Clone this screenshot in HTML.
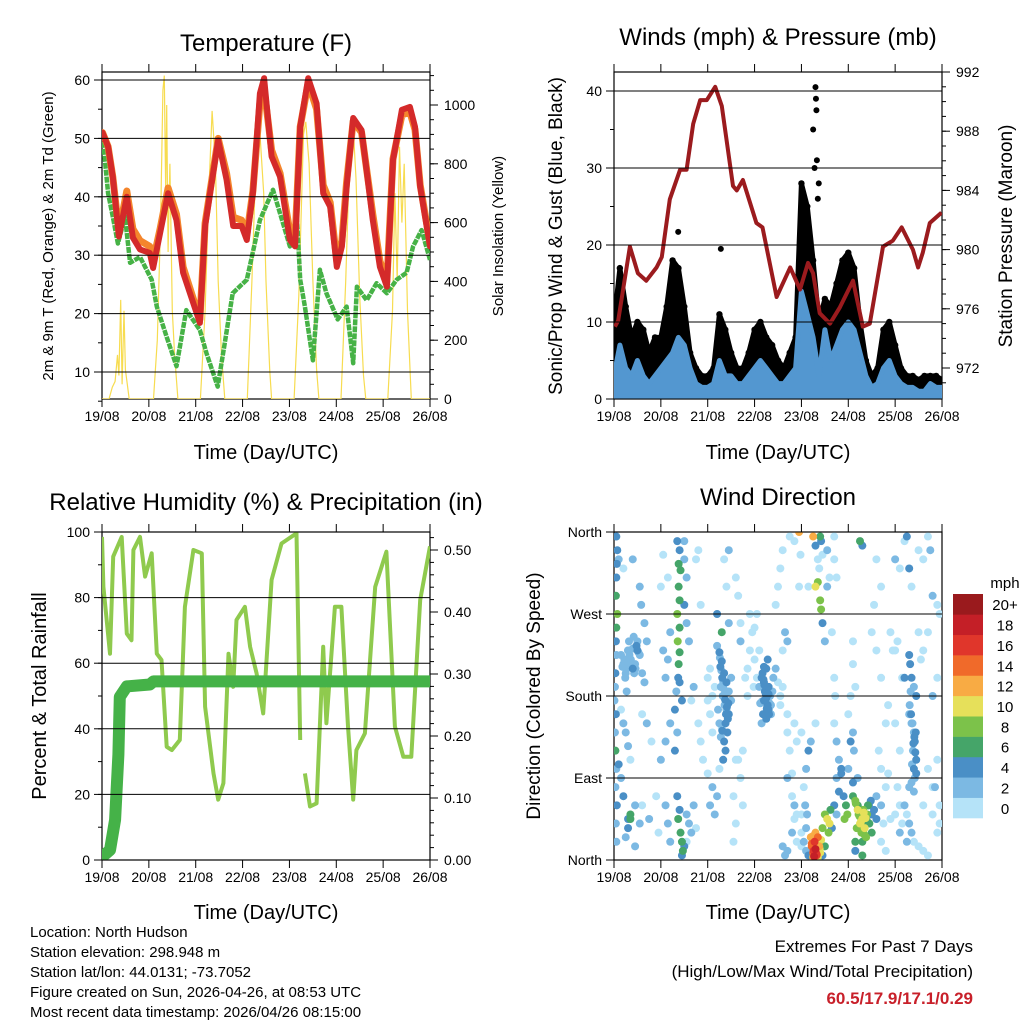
<!DOCTYPE html>
<html><head><meta charset="utf-8">
<style>
html,body{margin:0;padding:0;background:#fff;}
svg{display:block;font-family:"Liberation Sans",Arial,sans-serif;}
</style></head>
<body>
<svg id="chart" width="1024" height="1024" viewBox="0 0 1024 1024" xmlns="http://www.w3.org/2000/svg">
<defs>
<clipPath id="c1"><rect x="102" y="72" width="328" height="327"/></clipPath>
<clipPath id="c2"><rect x="614" y="72" width="328" height="327"/></clipPath>
<clipPath id="c3"><rect x="102" y="532" width="328" height="328"/></clipPath>
<clipPath id="c4"><rect x="614" y="532" width="328" height="328"/></clipPath>
</defs>
<g id="layer"></g>
<text x="266" y="51" font-size="24" text-anchor="middle">Temperature (F)</text>
<text x="778" y="45" font-size="24" text-anchor="middle">Winds (mph) &amp; Pressure (mb)</text>
<text x="266" y="510" font-size="24" text-anchor="middle">Relative Humidity (%) &amp; Precipitation (in)</text>
<text x="778" y="505" font-size="24" text-anchor="middle">Wind Direction</text>
<text x="266" y="459" font-size="20" text-anchor="middle">Time (Day/UTC)</text>
<text x="778" y="459" font-size="20" text-anchor="middle">Time (Day/UTC)</text>
<text x="266" y="919" font-size="20" text-anchor="middle">Time (Day/UTC)</text>
<text x="778" y="919" font-size="20" text-anchor="middle">Time (Day/UTC)</text>
<text transform="translate(53,236) rotate(-90)" font-size="15" text-anchor="middle">2m &amp; 9m T (Red, Orange) &amp; 2m Td (Green)</text>
<text transform="translate(503,236) rotate(-90)" font-size="15" text-anchor="middle">Solar Insolation (Yellow)</text>
<text transform="translate(562,236) rotate(-90)" font-size="19" text-anchor="middle">Sonic/Prop Wind &amp; Gust (Blue, Black)</text>
<text transform="translate(1012,236) rotate(-90)" font-size="19" text-anchor="middle">Station Pressure (Maroon)</text>
<text transform="translate(46,696) rotate(-90)" font-size="20" text-anchor="middle">Percent &amp; Total Rainfall</text>
<text transform="translate(540,696) rotate(-90)" font-size="19" text-anchor="middle">Direction (Colored By Speed)</text>
<text x="1005" y="588" font-size="15" text-anchor="middle">mph</text>
<g font-size="15">
<text x="30" y="937">Location: North Hudson</text>
<text x="30" y="957">Station elevation: 298.948 m</text>
<text x="30" y="977">Station lat/lon: 44.0131; -73.7052</text>
<text x="30" y="997">Figure created on Sun, 2026-04-26, at 08:53 UTC</text>
<text x="30" y="1017">Most recent data timestamp: 2026/04/26 08:15:00</text>
</g>
<text x="973" y="952" font-size="17" text-anchor="end">Extremes For Past 7 Days</text>
<text x="973" y="977" font-size="17" text-anchor="end">(High/Low/Max Wind/Total Precipitation)</text>
<text x="973" y="1004" font-size="17" font-weight="bold" fill="#c8202a" text-anchor="end">60.5/17.9/17.1/0.29</text>
</svg>
<script>
// ---------- DATA ----------
const dayLabels=["19/08","20/08","21/08","22/08","23/08","24/08","25/08","26/08"];
const tempTimes=[0.01,0.13,0.23,0.36,0.53,0.66,0.81,1.02,1.09,1.24,1.41,1.59,1.73,2.09,2.2,2.48,2.66,2.8,2.98,3.09,3.22,3.37,3.46,3.62,3.8,4.01,4.12,4.23,4.4,4.58,4.72,4.87,5.01,5.12,5.22,5.36,5.54,5.78,5.93,6.08,6.21,6.4,6.57,6.68,6.79,7.0];
const tempVals=[51,48.6,43.4,33.2,40,33,31,30.4,27.8,33.8,40.6,36,27,18.4,35,49.7,42.9,35,35,32.6,40.6,57.7,60.3,46.9,43.4,32.6,31.5,52,60.3,56,40.6,38.3,28,31.5,41.7,53.5,51.4,36,28,24.6,46.3,54.9,55.4,52,41.7,31.5];
const orangeVals=[51,48.6,43.4,34,41,34.5,32.5,31.5,29,34.5,41.5,37,28,19,35.5,50,44,36.5,36,33.5,41,56,58.5,48,44,34,33,52,59.5,55,42,39,29,32.5,42.5,53,51,37,29,25.5,46.5,54,54.5,51.5,42,32];
const dewTimes=[0.01,0.13,0.23,0.34,0.49,0.6,0.81,1.06,1.17,1.38,1.59,1.8,2.09,2.23,2.47,2.62,2.79,3.09,3.37,3.65,4.01,4.16,4.23,4.33,4.5,4.65,4.79,5.03,5.22,5.36,5.44,5.65,5.86,6.08,6.29,6.5,6.64,6.82,7.0];
const dewVals=[50.6,40.6,36.6,32,36.6,28.7,29.7,25.8,21.2,16,11,20.6,17.2,13.2,7.5,15,23.5,25.8,36,41.2,31.5,36.6,25.8,21.2,12,27.5,23.5,19,21.2,11.5,24.6,22.3,25.2,23.5,25.8,27,31.5,34.3,29.2];
const solarTimes=[0,0.15,0.22,0.28,0.33,0.36,0.4,0.43,0.47,0.5,0.58,1.1,1.18,1.25,1.3,1.33,1.36,1.38,1.41,1.45,1.5,1.55,1.62,2.1,2.2,2.28,2.35,2.42,2.48,2.55,2.62,3.1,3.2,3.3,3.37,3.45,3.5,3.58,3.62,4.1,4.2,4.3,4.35,4.42,4.5,4.58,4.63,5.1,5.2,5.3,5.35,5.42,5.5,5.58,5.63,6.1,6.2,6.25,6.3,6.35,6.4,6.45,6.52,6.6,7.0];
const solarVals=[0,0,40,60,150,80,337,50,300,100,0,0,200,600,1050,1100,700,1000,500,800,300,150,0,0,300,700,980,800,400,150,0,0,400,880,905,700,400,100,0,0,350,900,943,800,400,100,0,0,400,900,956,750,350,80,0,0,300,700,400,858,600,800,300,0,0];
const windTimes=[0,0.125,0.25,0.375,0.5,0.625,0.75,0.875,1,1.125,1.25,1.375,1.5,1.625,1.75,1.875,2,2.125,2.25,2.375,2.5,2.625,2.75,2.875,3,3.125,3.25,3.375,3.5,3.625,3.75,3.875,4,4.125,4.25,4.375,4.5,4.625,4.75,4.875,5,5.125,5.25,5.375,5.5,5.625,5.75,5.875,6,6.125,6.25,6.375,6.5,6.625,6.75,6.875,7];
const windVals=[3,7,4,3,5,3,2,3,4,5,6,8,7,4,2,1.5,1.5,2,5,3,3,2,2,3,4,5,4,3,2,2,3,4,14,11,8,3,9,5,7,9,10,9,6,3,1.5,2,4,5,3,2,1.5,1.5,1,1,2,1.5,1.5];
const gustVals=[10,17,12,8,10,9,6,8,8,12,18,17,12,6,4,3,3,4,11,9,6,4,4,6,9,10,8,7,5,4,6,8,28,25,18,10,13,12,15,18,19,17,10,5,3,4,9,10,7,4,3,3,2.5,3,3,3,2.5];
const gustOutTimes=[4.30,4.31,4.32,4.25,4.33,4.37,1.37,2.28,4.28,4.35];
const gustOutVals=[40.5,39,37.5,35,31,28,21.7,19.5,30,26];
const presTimes=[0.02,0.09,0.34,0.51,0.69,0.91,1.02,1.19,1.41,1.55,1.69,1.84,1.98,2.16,2.3,2.54,2.62,2.75,3.04,3.17,3.47,3.76,3.97,4.14,4.25,4.39,4.61,4.82,5.1,5.31,5.46,5.74,5.95,6.14,6.38,6.49,6.59,6.74,6.99];
const presVals=[974.8,975.2,980.2,978.4,977.9,978.8,979.5,983.4,985.4,985.4,988.5,990.1,990.1,991,989.7,984.3,984,984.7,981.8,981.5,976.8,978.8,977.3,979.1,978.4,975.7,975,976.1,977.9,974.8,975,980.2,980.6,981.5,980,978.8,979.8,981.8,982.5];
const rhTimes=[0,0.03,0.17,0.24,0.42,0.53,0.63,0.67,0.81,0.92,1.06,1.17,1.27,1.38,1.49,1.66,1.77,1.95,2.13,2.2,2.38,2.48,2.59,2.7,2.8,2.87,3.05,3.16,3.3,3.44,3.62,3.83,4.15,4.23];
const rhVals=[98.5,83.3,62.9,92.5,98.5,69,67,94.5,98.5,86.4,93.5,62.9,61,34.5,33.5,36.6,77.2,94.5,93.5,46.7,26.4,18.4,23.4,62.9,52.8,73.2,77.2,65,56.9,44.7,85.4,96.5,99.6,36.6];
const rh2Times=[4.33,4.44,4.58,4.72,4.79,4.97,5.11,5.25,5.36,5.43,5.61,5.83,6.07,6.25,6.43,6.6,6.79,7.0];
const rh2Vals=[26.4,16.3,17.3,65,41.7,77.2,77.2,40.7,18.4,33.5,38.6,83.3,94,40.7,31.5,31.5,79.3,95.6];
const precTimes=[0,0.17,0.28,0.35,0.38,0.53,1.02,1.1,7.0];
const precVals=[0.005,0.016,0.065,0.17,0.263,0.28,0.283,0.288,0.288];
const dirTimes=[0.05,0.07,0.06,0.05,0.04,0.07,0.05,0.04,0.05,0.03,0.02,0.01,0.04,0.02,0.03,0.05,0.03,0.06,0.04,0.05,0.15,0.2,0.25,0.3,0.35,0.4,0.45,0.5,0.55,0.6,0.65,0.32,0.42,0.5,0.27,0.15,0.2,0.25,0.3,0.35,0.1,0.15,0.2,0.3,0.25,0.35,0.35,0.3,0.45,0.55,0.1,0.2,0.4,0.55,0.58,0.65,0.7,0.6,0.7,0.8,0.45,
1.35,1.4,1.38,1.42,1.38,1.4,1.35,1.4,1.36,1.4,1.38,1.37,1.4,1.33,1.45,1.5,1.5,1.55,1.5,1.55,1.6,1.3,1.35,1.3,1.35,1.4,1.37,1.42,1.45,1.5,1.47,1.45,1.55,1.6,1.7,1.75,1.1,1.15,1.2,1.2,1.1,1.0,1.1,1.05,1.15,1.2,1.0,1.05,1.15,1.65,1.7,1.8,1.85,1.9,1.75,1.8,1.85,
2.2,2.25,2.3,2.35,2.4,2.28,2.32,2.36,2.4,2.45,2.38,2.42,2.35,2.38,2.33,2.45,2.5,2.5,2.22,2.25,2.3,2.3,2.2,2.0,2.05,2.1,2.1,2.15,2.0,2.05,2.0,2.1,2.05,2.15,2.2,2.25,2.6,2.65,2.7,2.8,2.85,2.65,2.7,2.75,2.6,2.55,2.45,2.4,2.35,2.45,2.7,2.85,2.9,2.95,2.9,
3.15,3.2,3.22,3.25,3.28,3.3,3.2,3.18,3.25,3.3,3.33,3.35,3.38,3.25,3.28,3.1,3.12,3.15,3.35,3.4,3.45,3.1,3.0,3.05,2.98,3.0,3.05,3.5,3.55,3.6,3.65,3.7,3.6,3.5,3.55,3.7,3.75,3.8,3.8,3.85,3.9,3.7,3.8,3.6,3.65,3.85,3.9,3.7,3.85,3.9,3.85,3.75,3.95,3.45,
4.2,4.22,4.25,4.28,4.3,4.32,4.35,4.38,4.4,4.35,4.3,4.42,4.25,4.45,4.5,4.55,4.6,4.58,4.62,4.65,4.5,4.45,4.1,4.15,4.05,4.1,4.12,4.08,4.05,4.1,4.15,4.2,4.3,4.0,4.0,4.0,4.0,4.25,4.4,4.3,4.42,4.45,4.35,4.38,4.3,4.35,4.4,4.42,4.45,4.5,4.55,4.55,4.6,4.7,4.7,4.75,4.65,4.7,4.72,4.7,4.75,4.8,4.85,4.75,4.8,4.7,4.75,4.9,4.95,4.98,4.92,4.85,3.98,3.95,4.15,
5.1,5.15,5.2,5.22,5.25,5.3,5.35,5.4,5.45,5.5,5.28,5.32,5.38,5.18,5.15,5.3,5.42,5.48,5.5,5.55,5.6,5.1,5.2,5.05,5.1,5.12,5.0,5.3,5.15,5.25,5.3,5.6,5.7,5.75,5.8,5.85,5.7,5.65,5.8,5.85,5.7,5.6,5.5,5.55,5.7,5.6,5.1,5.1,5.15,5.05,5.0,5.9,5.95,
6.3,6.32,6.35,6.3,6.35,6.4,6.42,6.38,6.45,6.4,6.45,6.35,6.4,6.3,6.2,6.25,6.3,6.35,6.4,6.5,6.6,6.7,6.8,6.9,6.95,6.8,6.7,6.9,6.1,6.05,6.0,6.1,6.15,6.2,6.25,6.3,6.35,6.0,6.1,6.5,6.6,6.7,6.75,6.8,6.9,6.95,6.7,6.6,6.55,6.5,6.9,6.8,6.0,6.05,6.15,6.0,6.1,6.2,6.4,6.45,6.25,
0.22,0.27,0.33,0.38,0.43,0.48,0.24,0.3,0.36,0.46,0.52,0.18,0.28,0.4,
2.27,2.31,2.34,2.37,2.41,2.29,2.33,2.39,2.43,2.26,2.36,2.44,2.31,2.28,
3.17,3.21,3.24,3.27,3.31,3.19,3.23,3.26,3.29,3.32,3.2,3.24,3.3,3.16,
4.22,4.26,4.29,4.33,4.36,4.24,4.31,4.34,4.27,4.39,
5.16,5.2,5.24,5.27,5.31,5.34,5.37,5.21,5.26,5.33,5.39,5.44,
6.31,6.34,6.37,6.41,6.43,6.33,6.39,6.36,6.42,6.44,
0.6,0.75,0.9,0.95,1.55,1.65,2.55,2.6,2.75,3.55,3.6,3.7,5.7,5.8,5.9,6.6,6.85,6.95];
const dirVals=[355,340,325,310,290,270,255,240,225,205,190,175,160,140,120,100,80,60,40,20,225,215,205,230,220,210,215,230,225,205,195,240,245,240,185,165,150,140,125,110,105,90,70,45,25,50,45,35,60,40,330,320,330,300,280,260,240,160,150,130,15,
350,340,325,318,300,285,270,255,240,228,215,200,195,185,175,350,330,310,280,260,240,165,140,120,70,55,45,30,20,15,10,5,50,40,60,35,60,40,20,150,130,110,200,230,220,250,300,335,310,175,190,150,130,110,330,340,280,
235,228,218,205,195,190,180,170,165,160,150,140,130,120,110,185,200,175,165,150,145,250,270,175,160,140,180,190,200,210,95,80,60,50,70,100,310,290,260,200,180,110,90,60,40,20,260,300,330,340,240,210,230,250,270,
200,195,185,178,170,165,175,160,155,190,180,170,185,210,220,190,172,150,160,200,210,230,220,200,190,255,270,300,320,340,250,240,230,195,170,140,120,95,70,45,20,10,30,15,5,60,50,160,150,130,350,355,300,280,
25,15,8,20,12,5,25,15,8,3,30,22,3,35,50,45,40,30,55,35,15,5,10,5,20,35,50,60,80,100,120,130,150,140,50,30,15,355,355,345,350,335,330,320,300,305,285,275,260,240,340,300,310,355,330,310,250,200,180,150,130,110,95,90,75,60,50,70,60,50,45,100,335,360,300,
70,65,60,50,40,45,35,50,40,30,30,55,25,35,20,20,60,65,50,55,45,85,90,130,140,120,100,5,10,350,345,70,60,40,80,95,100,120,150,170,200,230,250,280,300,330,240,215,190,180,160,250,230,
225,215,200,160,150,140,130,120,110,100,95,85,75,80,60,50,40,30,20,15,10,5,50,30,60,80,100,110,60,80,50,30,40,350,355,320,300,330,320,340,330,355,340,290,280,270,250,230,220,250,200,180,230,240,200,150,120,200,190,180,20,
220,210,225,215,205,235,200,230,220,210,228,212,218,232,
212,200,188,176,168,208,196,160,155,222,182,172,142,135,
205,192,182,168,160,198,176,166,188,172,212,158,182,174,
18,10,22,6,14,26,8,18,4,12,
62,55,48,42,38,28,46,58,36,52,44,60,
170,160,150,135,118,185,128,105,90,140,
60,45,70,30,20,30,70,110,120,180,190,90,20,10,45,60,80,40];
const dirSpeeds=[4,4,4,4,6,8,6,4,2,4,2,2,4,2,6,2,2,4,2,2,2,2,2,2,2,4,2,4,2,2,2,2,2,2,2,0,2,2,2,0,4,2,4,4,2,6,6,4,2,2,2,0,2,2,2,2,2,0,2,0,2,
4,4,6,6,6,6,8,6,8,6,6,4,4,2,4,2,2,2,4,2,2,4,2,4,4,4,6,6,6,4,6,4,2,2,2,0,2,2,2,2,2,2,2,2,2,2,0,0,0,0,2,0,0,0,0,0,0,
2,4,4,4,4,2,2,2,2,4,4,4,4,4,4,2,2,2,2,2,0,6,4,0,0,0,0,0,0,0,0,2,2,2,2,0,0,0,0,0,0,0,0,0,0,0,2,0,0,2,2,0,0,0,0,
4,4,4,4,4,4,4,4,4,4,2,2,2,4,4,2,2,2,2,2,2,0,0,0,0,0,0,0,0,0,2,2,0,0,0,0,0,0,0,0,0,2,2,2,2,2,0,0,0,0,0,0,0,0,
12,14,14,16,18,16,14,12,10,10,12,10,12,8,8,10,10,8,6,4,6,4,2,4,2,2,2,2,0,2,4,2,0,0,0,0,0,12,6,4,4,0,0,0,10,8,8,8,4,2,2,2,0,0,0,0,0,0,0,0,2,2,4,2,4,4,2,4,6,8,8,4,0,12,0,
6,8,6,8,10,10,10,8,6,6,8,8,8,8,6,6,6,4,4,4,4,4,2,4,2,2,2,6,4,6,4,2,2,0,0,0,0,0,0,0,0,0,0,0,0,0,0,0,0,0,0,0,0,
4,4,4,2,2,2,4,2,4,4,4,2,2,2,2,0,2,2,0,0,0,0,0,0,0,0,0,0,0,0,0,2,0,0,4,4,0,2,0,0,0,0,2,2,0,0,0,0,0,0,0,2,0,0,0,0,0,4,2,4,2,
2,2,2,2,2,4,2,2,2,2,2,2,2,2,
4,4,2,4,4,2,2,4,4,2,2,4,4,2,
4,4,4,4,4,4,4,4,2,2,4,4,4,2,
14,16,12,14,10,12,16,8,18,10,
8,10,8,10,6,8,10,6,8,10,6,4,
2,4,2,4,4,2,4,2,2,4,
0,2,0,0,0,2,0,0,0,0,0,2,0,0,0,0,2,0];
const speedColors=["#b5e3f8","#7cb9e3","#4a8fc6","#45a569","#7cc24a","#e6e05a","#f8ab44","#f06a2a","#e0362b","#c41f27","#9a1a1d"];
const speedLabels=["0","2","4","6","8","10","12","14","16","18","20+"];
const tempTicks=[10,20,30,40,50,60];
const solarTicks=[0,200,400,600,800,1000];
const windTicks=[0,10,20,30,40];
const presTicks=[972,976,980,984,988,992];
const rhTicks=[0,20,40,60,80,100];
const precTicks=[0,0.1,0.2,0.3,0.4,0.5];
const dirTicks=[0,90,180,270,360];
const dirTickLabels=["North","East","South","West","North"];

// ---------- SCALES ----------
const NS="http://www.w3.org/2000/svg";
const layer=document.getElementById('layer');
const DW=328/7;
const xA=d=>102+d*DW, xB=d=>614+d*DW;
const tempY=v=>372-(v-10)*5.84, solarY=v=>399-v*0.294;
const windY=v=>399-v*7.7, presY=p=>72+(992-p)*14.8;
const rhY=v=>860-v*3.28, precY=v=>860-v*620, dirY=v=>860-v*82/90;

function mk(tag,attrs,parent){const e=document.createElementNS(NS,tag);for(const k in attrs)e.setAttribute(k,attrs[k]);(parent||layer).appendChild(e);return e;}
function pathD(ts,vs,xf,yf){return ts.map((t,i)=>(i?'L':'M')+xf(t).toFixed(1)+','+yf(vs[i]).toFixed(1)).join('');}

function frame(x0,y0,name,clip){
  const g=mk('g',{});
  
  
  const r=mk('rect',{x:x0,y:y0,width:328,height:(y0>500?328:327),fill:'none',stroke:'#000','stroke-width':1.2},g);
  
  
  const yb=y0>500?860:399;
  for(let i=0;i<=7;i++){
    const x=x0+i*DW;
    const t1=mk('line',{x1:x,x2:x,y1:y0-8,y2:y0,stroke:'#000'},g);
    
    
    const t2=mk('line',{x1:x,x2:x,y1:yb,y2:yb+8,stroke:'#000'},g);
    
    
    const lb=mk('text',{x:x,y:yb+22,'font-size':14,'text-anchor':'middle'},g);
    
    
    lb.textContent=dayLabels[i];
  }
  const cg=mk('g',{'clip-path':'url(#'+clip+')'},g);
  return cg;
}
function leftAxis(x0,ticks,yf,labels,minor,grid){
  ticks.forEach((v,i)=>{
    const y=yf(v);
    if(grid){const gl=mk('line',{x1:x0,x2:x0+328,y1:y,y2:y,stroke:'#000','stroke-width':1});
      
      }
    const t=mk('line',{x1:x0-8,x2:x0,y1:y,y2:y,stroke:'#000'});
    
    
    const lb=mk('text',{x:x0-12,y:y+5,'font-size':14,'text-anchor':'end'});
    
    
    lb.textContent=labels?labels[i]:v;
  });
  minor.forEach(v=>{const y=yf(v);const t=mk('line',{x1:x0-4,x2:x0,y1:y,y2:y,stroke:'#000'});
    
    });
}
function rightAxis(x1,ticks,yf,fmt,minor){
  ticks.forEach(v=>{const y=yf(v);
    const t=mk('line',{x1:x1,x2:x1+8,y1:y,y2:y,stroke:'#000'});
    
    
    const lb=mk('text',{x:x1+14,y:y+5,'font-size':14});
    
    
    lb.textContent=fmt(v);});
  minor.forEach(v=>{const y=yf(v);const t=mk('line',{x1:x1,x2:x1+4,y1:y,y2:y,stroke:'#000'});
    
    });
}
const rng=(a,b,s)=>{const r=[];for(let v=a;v<=b+1e-9;v+=s)r.push(+v.toFixed(4));return r;};

// Panel 1: temperature
const c1=frame(102,72,'temperature-panel','c1');
leftAxis(102,tempTicks,tempY,null,rng(5,60,5),true);
rightAxis(430,solarTicks,solarY,v=>v,rng(0,1100,50));
const ps=mk('path',{d:pathD(solarTimes,solarVals,xA,solarY),fill:'none',stroke:'#f7dc50','stroke-width':1.2},c1);


const pd=mk('path',{d:pathD(dewTimes,dewVals,xA,tempY),fill:'none',stroke:'#46b246','stroke-width':4.5,'stroke-dasharray':'6 1','stroke-linejoin':'round'},c1);


const po=mk('path',{d:pathD(tempTimes,orangeVals,xA,tempY),fill:'none',stroke:'#f4852c','stroke-width':7,'stroke-linejoin':'round','stroke-linecap':'round'},c1);


const pr=mk('path',{d:pathD(tempTimes,tempVals,xA,tempY),fill:'none',stroke:'#d42a2a','stroke-width':6,'stroke-linejoin':'round','stroke-linecap':'round'},c1);



// Panel 2: winds
const c2=frame(614,72,'winds-panel','c2');
leftAxis(614,windTicks,windY,null,rng(0,40,5),true);
rightAxis(942,presTicks,presY,v=>v,rng(971,992,1));
const gustPoly=pathD(windTimes,gustVals,xB,windY)+pathD(windTimes.slice().reverse(),windVals.slice().reverse(),xB,windY).replace('M','L')+'Z';
const pg=mk('path',{d:gustPoly,fill:'#000',stroke:'#000','stroke-width':5,'stroke-linejoin':'round'},c2);


windTimes.forEach((t,i)=>{const c=mk('circle',{cx:xB(t),cy:windY(gustVals[i]),r:3.2,fill:'#000'},c2);
  
  });
gustOutTimes.forEach((t,i)=>{const c=mk('circle',{cx:xB(t),cy:windY(gustOutVals[i]),r:3,fill:'#000'},c2);
  
  });
const windPoly=pathD(windTimes,windVals,xB,windY)+'L'+xB(7)+','+windY(0.3)+'L'+xB(0)+','+windY(0.3)+'Z';
const pw=mk('path',{d:windPoly,fill:'#5397d0',stroke:'#5397d0','stroke-width':5,'stroke-linejoin':'round'},c2);


const pp=mk('path',{d:pathD(presTimes,presVals,xB,presY),fill:'none',stroke:'#9b1b1e','stroke-width':4,'stroke-linejoin':'round'},c2);



// Panel 3: RH & precip
const c3=frame(102,532,'humidity-panel','c3');
leftAxis(102,rhTicks,rhY,null,rng(0,100,10),true);
rightAxis(430,precTicks,precY,v=>v.toFixed(2),rng(0,0.52,0.02));
const rh1=mk('path',{d:pathD(rhTimes,rhVals,xA,rhY),fill:'none',stroke:'#8fca4e','stroke-width':4,'stroke-linejoin':'round'},c3);


const rh2=mk('path',{d:pathD(rh2Times,rh2Vals,xA,rhY),fill:'none',stroke:'#8fca4e','stroke-width':4,'stroke-linejoin':'round'},c3);


const pc=mk('path',{d:pathD(precTimes,precVals,xA,precY),fill:'none',stroke:'#45b248','stroke-width':12,'stroke-linejoin':'round','stroke-linecap':'round'},c3);



// Panel 4: wind direction
const c4=frame(614,532,'wind-direction-panel','c4');
leftAxis(614,dirTicks,dirY,dirTickLabels,[],true);
const order=dirTimes.map((_,i)=>i).sort((a,b)=>dirSpeeds[a]-dirSpeeds[b]);
order.forEach(i=>{const ci=Math.min(10,Math.floor(dirSpeeds[i]/2));
  const c=mk('circle',{cx:xB(dirTimes[i]),cy:dirY(dirVals[i]),r:4,fill:speedColors[ci]},c4);
  
  });
const cb=mk('g',{});


speedColors.forEach((col,i)=>{const y=818-(i+1)*(224/11);
  const r=mk('rect',{x:953,y:y,width:30,height:224/11+0.3,fill:col},cb);
  
  
  const t=mk('text',{x:1005,y:y+224/22+6,'font-size':15,'text-anchor':'middle'},cb);
  
  
  t.textContent=speedLabels[i];});
</script>
</body></html>
